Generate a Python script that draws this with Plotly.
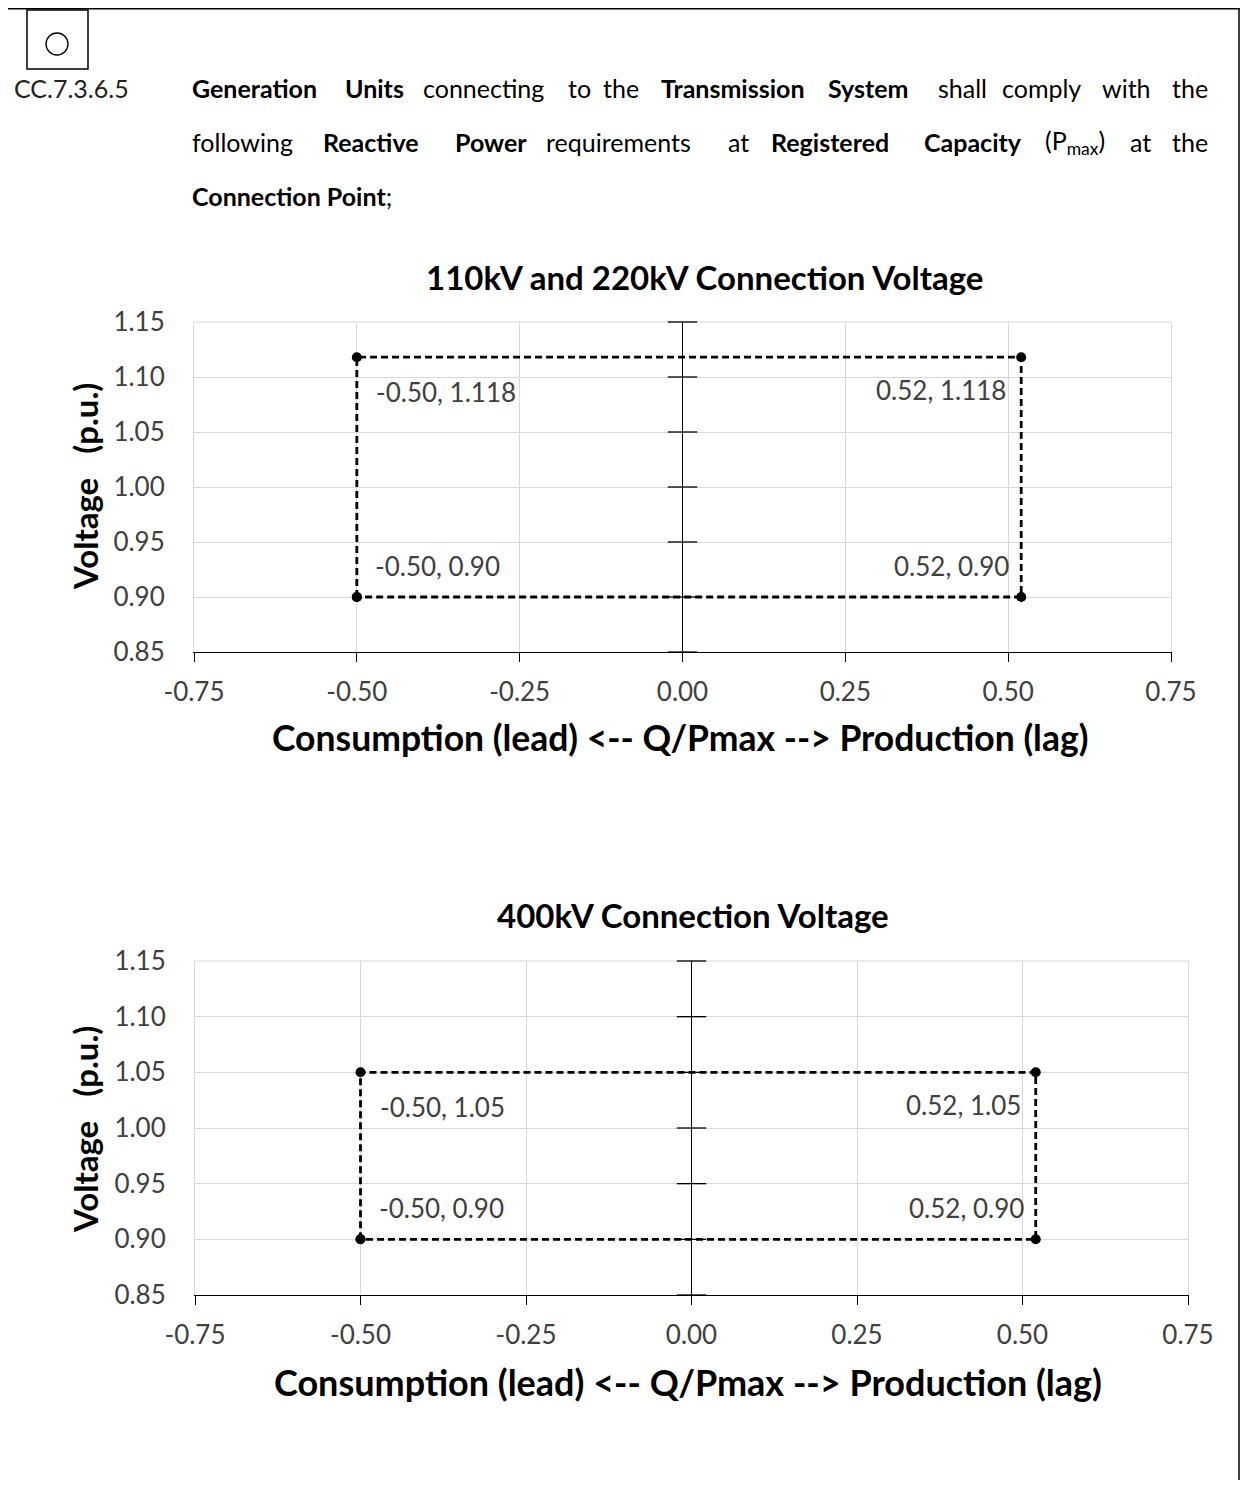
import plotly.graph_objects as go

# ---------------- data ----------------
x_ticks = [-0.75, -0.50, -0.25, 0.00, 0.25, 0.50, 0.75]
y_ticks = [0.85, 0.90, 0.95, 1.00, 1.05, 1.10, 1.15]

top_title = "110kV and 220kV Connection Voltage"
top_q = [-0.50, -0.50, 0.52, 0.52, -0.50]
top_v = [0.90, 1.118, 1.118, 0.90, 0.90]
top_labels = ["-0.50, 0.90", "-0.50, 1.118", "0.52, 1.118", "0.52, 0.90"]

bot_title = "400kV Connection Voltage"
bot_q = [-0.50, -0.50, 0.52, 0.52, -0.50]
bot_v = [0.90, 1.05, 1.05, 0.90, 0.90]
bot_labels = ["-0.50, 0.90", "-0.50, 1.05", "0.52, 1.05", "0.52, 0.90"]

x_title = "Consumption (lead) &lt;-- Q/Pmax --&gt; Production (lag)"
y_title = "Voltage&nbsp;&nbsp;&nbsp;(p.u.)"

# the page body adds an 8px margin, so the figure is sized to fit inside the window
OFF = 8
W, H = 1250 - OFF, 1488 - 2 * OFF
FONT = "Lato"
GRID = "#d9d9d9"
LBL = "#404040"


def px(x):
    return (x - OFF) / W


def py(y):
    return 1 - (y - OFF) / H


fig = go.Figure()

charts = [
    dict(q=top_q, v=top_v, labels=top_labels, title=top_title,
         xdom=[px(194), px(1171)], ydom=[py(652), py(322)],
         title_xy=(705, 277), xt_xy=(680, 737), xt_size=35.5, yt_xy=(85, 487), suffix=""),
    dict(q=bot_q, v=bot_v, labels=bot_labels, title=bot_title,
         xdom=[px(195), px(1188)], ydom=[py(1295), py(961)],
         title_xy=(693, 915), xt_xy=(688, 1382), xt_size=36, yt_xy=(85, 1130), suffix="2"),
]

annotations = []
shapes = []
for c in charts:
    s = c["suffix"]
    xa, ya = "x" + s, "y" + s
    # the rectangle of requirements
    fig.add_trace(go.Scatter(
        x=c["q"], y=c["v"], xaxis=xa, yaxis=ya, mode="lines+markers",
        line=dict(color="black", width=2.8, dash="7px,4px"),
        marker=dict(color="black", size=10, symbol="circle"),
        hoverinfo="skip", showlegend=False, cliponaxis=False))
    # tick marks crossing the vertical axis at Q = 0
    fig.add_trace(go.Scatter(
        x=[0] * len(y_ticks), y=y_ticks, xaxis=xa, yaxis=ya, mode="markers",
        marker=dict(symbol="line-ew", size=21, line=dict(color="black", width=1.3)),
        hoverinfo="skip", showlegend=False, cliponaxis=False))

    fig.layout["xaxis" + s] = dict(
        domain=c["xdom"], anchor=ya, range=[-0.75, 0.75], tickvals=x_ticks,
        ticktext=[f"{t:.2f}" for t in x_ticks], automargin=False,
        showgrid=True, gridcolor=GRID, gridwidth=1,
        zeroline=True, zerolinecolor="black", zerolinewidth=1.3,
        showline=True, linecolor="black", linewidth=1.3,
        ticks="outside", ticklen=9, tickwidth=1.3, tickcolor="black",
        ticklabelstandoff=8,
        tickfont=dict(family=FONT, size=26, color=LBL), fixedrange=True)
    fig.layout["yaxis" + s] = dict(
        domain=c["ydom"], anchor=xa, range=[0.85, 1.15], tickvals=y_ticks,
        ticktext=[f"{t:.2f}" for t in y_ticks], automargin=False,
        showgrid=True, gridcolor=GRID, gridwidth=1,
        zeroline=False, showline=True, linecolor=GRID, linewidth=1, mirror=True,
        ticks="", ticklabelstandoff=23,
        tickfont=dict(family=FONT, size=26, color=LBL), fixedrange=True)

    # light top border of the plot area
    shapes.append(dict(type="line", xref=xa + " domain", yref=ya + " domain",
                       x0=0, x1=1, y0=1, y1=1, line=dict(color=GRID, width=1),
                       layer="below"))

    # data labels at the corners
    q, v, lab = c["q"], c["v"], c["labels"]
    offs = [("left", 16, 31), ("left", 17, -35), ("right", -13, -33), ("right", -10, 31)]
    for i in range(4):
        anc, xs, ys = offs[i]
        annotations.append(dict(
            x=q[i], y=v[i], xref=xa, yref=ya, text=lab[i], showarrow=False,
            xanchor=anc, yanchor="middle", xshift=xs, yshift=ys,
            font=dict(family=FONT, size=26, color=LBL)))

    # chart title and axis titles
    tx, ty = c["title_xy"]
    annotations.append(dict(
        x=px(tx), y=py(ty), xref="paper", yref="paper", showarrow=False,
        text="<b>" + c["title"] + "</b>", xanchor="center", yanchor="middle",
        font=dict(family=FONT, size=33, color="black")))
    tx, ty = c["xt_xy"]
    annotations.append(dict(
        x=px(tx), y=py(ty), xref="paper", yref="paper", showarrow=False,
        text="<b>" + x_title + "</b>", xanchor="center", yanchor="middle",
        font=dict(family=FONT, size=c["xt_size"], color="black")))
    tx, ty = c["yt_xy"]
    annotations.append(dict(
        x=px(tx), y=py(ty), xref="paper", yref="paper", showarrow=False,
        text="<b>" + y_title + "</b>", textangle=-90, xanchor="center",
        yanchor="middle", font=dict(family=FONT, size=33, color="black")))

# ---------------- header paragraph ----------------
HF = 25
annotations.append(dict(x=px(12), y=py(88), xref="paper", yref="paper",
                        text="CC.7.3.6.5", showarrow=False, xanchor="left",
                        yanchor="middle", font=dict(family=FONT, size=HF, color="#222222")))
lines = [
    (88, [("Generation", True, 190), ("Units", True, 343), ("connecting", False, 421),
          ("to", False, 566), ("the", False, 601), ("Transmission", True, 659),
          ("System", True, 826), ("shall", False, 936), ("comply", False, 1000),
          ("with", False, 1100), ("the", False, 1210)]),
    (142, [("following", False, 190), ("Reactive", True, 321), ("Power", True, 453),
           ("requirements", False, 544), ("at", False, 726), ("Registered", True, 769),
           ("Capacity", True, 922), ("(P<sub>max</sub>)", False, 1043), ("at", False, 1128),
           ("the", False, 1210)]),
    (196, [("Connection Point", True, 190)]),
]
for yy, words in lines:
    for j, (w, b, xx) in enumerate(words):
        last = (j == len(words) - 1) and len(words) > 1
        annotations.append(dict(
            x=px(xx), y=py(yy), xref="paper", yref="paper", showarrow=False,
            text=("<b>" + w + "</b>" if b else w) + (";" if w == "Connection Point" else ""),
            xanchor="right" if last else "left", yanchor="middle",
            font=dict(family=FONT, size=HF, color="black")))

shapes += [
    # page border (top and right)
    dict(type="line", xref="paper", yref="paper", x0=px(0), x1=px(1240), y0=py(8.5), y1=py(8.5),
         line=dict(color="black", width=2)),
    dict(type="line", xref="paper", yref="paper", x0=px(1239), x1=px(1239), y0=py(8), y1=0,
         line=dict(color="black", width=1.5)),
    # small box with circle
    dict(type="rect", xref="paper", yref="paper", x0=px(27), x1=px(88), y0=py(69), y1=py(10),
         line=dict(color="black", width=1.5)),
    dict(type="circle", xref="paper", yref="paper", x0=px(46), x1=px(68), y0=py(55), y1=py(33),
         line=dict(color="black", width=1.3)),
]

fig.update_layout(
    width=W, height=H, autosize=False,
    margin=dict(l=0, r=0, t=0, b=0, autoexpand=False),
    paper_bgcolor="white", plot_bgcolor="white",
    showlegend=False, annotations=annotations, shapes=shapes,
    font=dict(family=FONT),
)

fig.write_html("out.html")
